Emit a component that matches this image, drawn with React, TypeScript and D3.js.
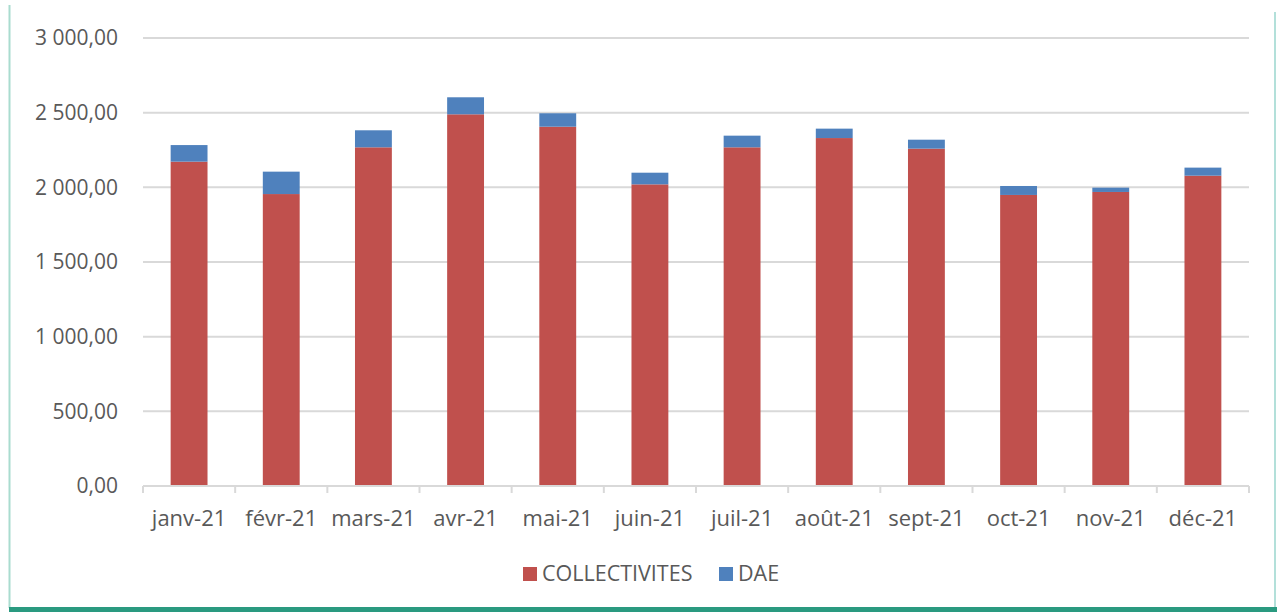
import React from "react";
import * as d3 from "d3";

const categories = ["janv-21", "févr-21", "mars-21", "avr-21", "mai-21", "juin-21", "juil-21", "août-21", "sept-21", "oct-21", "nov-21", "déc-21"];
const collectivites = [2172, 1955, 2268, 2489, 2406, 2020, 2268, 2330, 2259, 1949, 1969, 2078];
const dae = [111, 150, 114, 114, 90, 78, 78, 63, 60, 60, 29, 54];
const yTicks = [0, 500, 1000, 1500, 2000, 2500, 3000];
const seriesNames = ["COLLECTIVITES", "DAE"];
const seriesColors = ["#C0504D", "#4F81BD"];

const W = 1277;
const H = 612;
const FONT = "'Open Sans', sans-serif";

function fmt(v: number) {
  const s = v.toFixed(2).replace(".", ",");
  const [i, d] = s.split(",");
  const withSpace = i.replace(/\B(?=(\d{3})+(?!\d))/g, " ");
  return withSpace + "," + d;
}

export default function App() {
  const x = d3.scaleBand<string>().domain(categories).range([143, 1249]).paddingInner(0).paddingOuter(0);
  const y = d3.scaleLinear().domain([0, 3000]).range([486, 38]);
  const bw = x.bandwidth() * 0.4;

  const rows = categories.map((c, i) => ({ c, a: collectivites[i], b: dae[i] }));
  const stack = d3.stack<any>().keys(["a", "b"])(rows);

  return (
    <svg width={W} height={H} style={{ position: "absolute", left: 0, top: 0, display: "block", background: "#fff" }}>
      <rect x={0} y={0} width={W} height={H} fill="#fff" />
      {/* frame */}
      <line x1={9.5} x2={9.5} y1={5} y2={608} stroke="#a9dccf" strokeWidth={2} />
      <line x1={1275} x2={1275} y1={12} y2={608} stroke="#b3e0da" strokeWidth={2} />
      <rect x={9} y={607} width={W - 9} height={5} fill="#2a9a80" />

      {/* gridlines */}
      {yTicks.filter((t) => t > 0).map((t) => (
        <line key={t} x1={143} x2={1249} y1={y(t)} y2={y(t)} stroke="#d9d9d9" strokeWidth={2} />
      ))}
      {/* y labels */}
      {yTicks.map((t) => (
        <text key={"l" + t} x={118} y={y(t)} dy="0.35em" textAnchor="end" fontFamily={FONT} fontSize={21} fill="#595959">
          {fmt(t)}
        </text>
      ))}

      {/* bars */}
      {stack.map((s, si) =>
        s.map((d: any, i: number) => (
          <rect
            key={si + "-" + i}
            x={(x(categories[i]) as number) + (x.bandwidth() - bw) / 2}
            y={y(d[1])}
            width={bw}
            height={y(d[0]) - y(d[1])}
            fill={seriesColors[si]}
          />
        ))
      )}

      {/* x axis */}
      <line x1={143} x2={1249} y1={486} y2={486} stroke="#d9d9d9" strokeWidth={2} />
      {categories.map((c) => (
        <line key={"t" + c} x1={x(c) as number} x2={x(c) as number} y1={486} y2={493} stroke="#d9d9d9" strokeWidth={2} />
      ))}
      <line x1={1249} x2={1249} y1={486} y2={493} stroke="#d9d9d9" strokeWidth={2} />
      {categories.map((c) => (
        <text key={"x" + c} x={(x(c) as number) + x.bandwidth() / 2} y={526} textAnchor="middle" fontFamily={FONT} fontSize={22} fill="#595959">
          {c}
        </text>
      ))}

      {/* legend */}
      <rect x={523} y={567} width={14} height={14} fill={seriesColors[0]} />
      <text x={542} y={581} fontFamily={FONT} fontSize={21.5} fill="#595959">{seriesNames[0]}</text>
      <rect x={719} y={567} width={14} height={14} fill={seriesColors[1]} />
      <text x={738} y={581} fontFamily={FONT} fontSize={21.5} fill="#595959">{seriesNames[1]}</text>
    </svg>
  );
}
